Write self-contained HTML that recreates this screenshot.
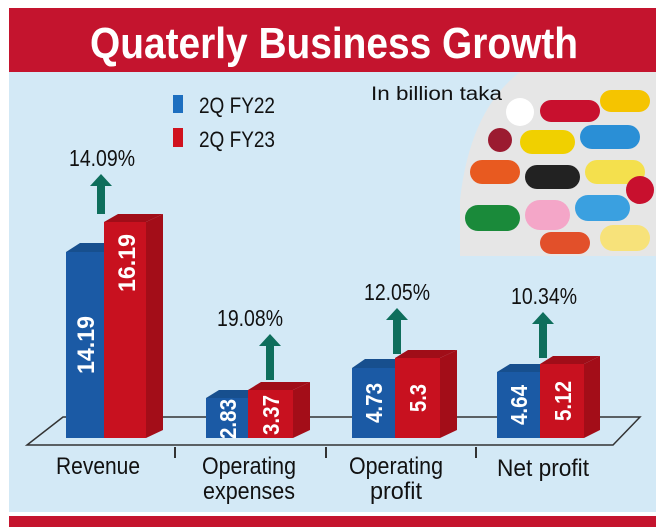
<!DOCTYPE html>
<html><head><meta charset="utf-8"><style>
html,body{margin:0;padding:0;background:#fff;}
svg{display:block;}
text{font-family:"Liberation Sans Narrow","Liberation Sans",sans-serif;}
</style></head><body>
<svg width="665" height="527" viewBox="0 0 665 527" xmlns="http://www.w3.org/2000/svg">
<rect x="0" y="0" width="665" height="527" fill="#fff"/>
<rect x="9" y="8" width="647" height="64" fill="#c4142e"/>
<rect x="9" y="72" width="647" height="440" fill="#d3e9f6"/>
<rect x="9" y="516" width="647" height="11" fill="#c4142e"/>
<text x="334" y="58" text-anchor="middle" font-size="44" font-weight="bold" fill="#fff" textLength="488" lengthAdjust="spacingAndGlyphs">Quaterly Business Growth</text>

<g>
<clipPath id="cp"><path d="M656 72 L520 72 Q470 110 460 200 L460 256 L656 256 Z"/></clipPath>
<g clip-path="url(#cp)">
<rect x="455" y="72" width="201" height="184" fill="#e6e6e6"/>
<rect x="540" y="100" width="60" height="22" rx="11" fill="#c8102e"/>
<rect x="600" y="90" width="50" height="22" rx="11" fill="#f5c400"/>
<rect x="520" y="130" width="55" height="24" rx="12" fill="#f0d000"/>
<rect x="580" y="125" width="60" height="24" rx="12" fill="#2a8fd6"/>
<rect x="470" y="160" width="50" height="24" rx="12" fill="#e85a20"/>
<rect x="525" y="165" width="55" height="24" rx="12" fill="#222"/>
<rect x="585" y="160" width="60" height="24" rx="12" fill="#f4e04d"/>
<rect x="465" y="205" width="55" height="26" rx="13" fill="#1a8a3a"/>
<rect x="525" y="200" width="45" height="30" rx="15" fill="#f4a6c8"/>
<rect x="575" y="195" width="55" height="26" rx="13" fill="#3aa0e0"/>
<rect x="600" y="225" width="50" height="26" rx="13" fill="#f7e27a"/>
<rect x="540" y="232" width="50" height="22" rx="11" fill="#e2502a"/>
<circle cx="520" cy="112" r="14" fill="#fff"/>
<circle cx="640" cy="190" r="14" fill="#c8102e"/>
<circle cx="500" cy="140" r="12" fill="#9b1b30"/>
</g></g>

<text x="371" y="100" font-size="19" fill="#111" textLength="131" lengthAdjust="spacingAndGlyphs">In billion taka</text>
<rect x="173" y="95" width="10" height="18" fill="#1d6fc0"/>
<text x="199" y="113" font-size="22" fill="#111" textLength="76" lengthAdjust="spacingAndGlyphs">2Q FY22</text>
<rect x="173" y="128" width="10" height="19" fill="#d0121e"/>
<text x="199" y="147" font-size="22" fill="#111" textLength="76" lengthAdjust="spacingAndGlyphs">2Q FY23</text>

<path d="M63 417 L640 417 L613 445 L27 445 Z" fill="#d3e9f6" stroke="#333" stroke-width="1.5"/>
<g stroke="#333" stroke-width="2"><line x1="175" y1="447" x2="175" y2="458"/><line x1="326" y1="447" x2="326" y2="458"/><line x1="476" y1="447" x2="476" y2="458"/></g>

<g>
<path d="M66 252 L80 243 L118 243 L104 252 Z" fill="#174f8e"/>
<rect x="66" y="252" width="38" height="186" fill="#1b5aa5"/>
<path d="M104 222 L118 214 L163 214 L146 222 Z" fill="#a00d18"/>
<path d="M146 222 L163 214 L163 430 L146 438 Z" fill="#a30d18"/>
<rect x="104" y="222" width="42" height="216" fill="#c8111f"/>
<text transform="translate(94,345) rotate(-90)" text-anchor="middle" font-size="24" font-weight="bold" fill="#fff" textLength="58" lengthAdjust="spacingAndGlyphs">14.19</text>
<text transform="translate(135,263) rotate(-90)" text-anchor="middle" font-size="24" font-weight="bold" fill="#fff" textLength="58" lengthAdjust="spacingAndGlyphs">16.19</text>
</g>
<g>
<path d="M206 398 L219 390 L261 390 L248 398 Z" fill="#174f8e"/>
<rect x="206" y="398" width="42" height="40" fill="#1b5aa5"/>
<path d="M248 390 L261 382 L310 382 L293 390 Z" fill="#a00d18"/>
<path d="M293 390 L310 382 L310 430 L293 438 Z" fill="#a30d18"/>
<rect x="248" y="390" width="45" height="48" fill="#c8111f"/>
<text transform="translate(236,419) rotate(-90)" text-anchor="middle" font-size="23" font-weight="bold" fill="#fff" textLength="40" lengthAdjust="spacingAndGlyphs">2.83</text>
<text transform="translate(279,415) rotate(-90)" text-anchor="middle" font-size="23" font-weight="bold" fill="#fff" textLength="40" lengthAdjust="spacingAndGlyphs">3.37</text>
</g>
<g>
<path d="M352 368 L365 359 L408 359 L395 368 Z" fill="#174f8e"/>
<rect x="352" y="368" width="43" height="70" fill="#1b5aa5"/>
<path d="M395 358 L408 350 L457 350 L440 358 Z" fill="#a00d18"/>
<path d="M440 358 L457 350 L457 430 L440 438 Z" fill="#a30d18"/>
<rect x="395" y="358" width="45" height="80" fill="#c8111f"/>
<text transform="translate(382,403) rotate(-90)" text-anchor="middle" font-size="23" font-weight="bold" fill="#fff" textLength="40" lengthAdjust="spacingAndGlyphs">4.73</text>
<text transform="translate(426,398) rotate(-90)" text-anchor="middle" font-size="23" font-weight="bold" fill="#fff" textLength="28" lengthAdjust="spacingAndGlyphs">5.3</text>
</g>
<g>
<path d="M497 372 L510 364 L553 364 L540 372 Z" fill="#174f8e"/>
<rect x="497" y="372" width="43" height="66" fill="#1b5aa5"/>
<path d="M540 364 L553 356 L600 356 L584 364 Z" fill="#a00d18"/>
<path d="M584 364 L600 356 L600 430 L584 438 Z" fill="#a30d18"/>
<rect x="540" y="364" width="44" height="74" fill="#c8111f"/>
<text transform="translate(527,405) rotate(-90)" text-anchor="middle" font-size="23" font-weight="bold" fill="#fff" textLength="40" lengthAdjust="spacingAndGlyphs">4.64</text>
<text transform="translate(571,401) rotate(-90)" text-anchor="middle" font-size="23" font-weight="bold" fill="#fff" textLength="40" lengthAdjust="spacingAndGlyphs">5.12</text>
</g>

<g fill="#0e6e5c">
<path d="M90 186 L101 174 L112 186 L105 186 L105 214 L97 214 L97 186 Z"/>
<path d="M259 346 L270 334 L281 346 L274 346 L274 380 L266 380 L266 346 Z"/>
<path d="M386 320 L397 308 L408 320 L401 320 L401 354 L393 354 L393 320 Z"/>
<path d="M532 324 L543 312 L554 324 L547 324 L547 358 L539 358 L539 324 Z"/>
</g>
<g font-size="23" fill="#111" text-anchor="middle">
<text x="102" y="166" textLength="66" lengthAdjust="spacingAndGlyphs">14.09%</text>
<text x="250" y="326" textLength="66" lengthAdjust="spacingAndGlyphs">19.08%</text>
<text x="397" y="300" textLength="66" lengthAdjust="spacingAndGlyphs">12.05%</text>
<text x="544" y="304" textLength="66" lengthAdjust="spacingAndGlyphs">10.34%</text>
</g>
<g font-size="24" fill="#111" text-anchor="middle">
<text x="98" y="474" textLength="84" lengthAdjust="spacingAndGlyphs">Revenue</text>
<text x="249" y="474" textLength="94" lengthAdjust="spacingAndGlyphs">Operating</text>
<text x="249" y="499" textLength="92" lengthAdjust="spacingAndGlyphs">expenses</text>
<text x="396" y="474" textLength="94" lengthAdjust="spacingAndGlyphs">Operating</text>
<text x="396" y="499" textLength="52" lengthAdjust="spacingAndGlyphs">profit</text>
<text x="543" y="476" textLength="92" lengthAdjust="spacingAndGlyphs">Net profit</text>
</g>
</svg>
</body></html>
